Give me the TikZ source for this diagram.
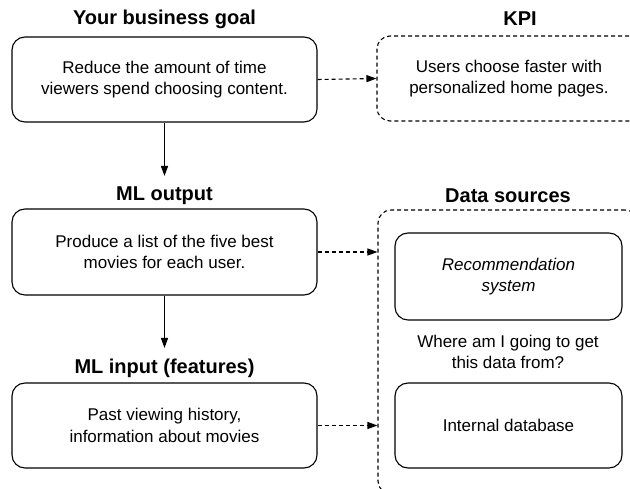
\documentclass[tikz,border=0pt]{standalone}
\usepackage{fontspec}
\setmainfont{Liberation Sans}
\usetikzlibrary{arrows.meta}
\tikzset{
  box/.style={draw, line width=1.1pt, rounded corners=13pt, align=center,
    font=\fontsize{17}{21.7}\selectfont, inner sep=0pt},
  dbox/.style={box, dashed, dash pattern=on 4pt off 3pt},
  ttl/.style={font=\bfseries\fontsize{20}{24}\selectfont, inner sep=0pt},
  qtext/.style={align=center, font=\fontsize{17}{21.7}\selectfont, inner sep=0pt},
  arr/.style={line width=1.1pt, -{Triangle[length=10pt,width=7pt]}},
  darr/.style={arr, dash pattern=on 4pt off 3pt},
}
\begin{document}
\begin{tikzpicture}[x=1pt,y=-1pt]
\useasboundingbox (0,0) rectangle (630,489);
\clip (0,0) rectangle (630,489);

% titles
\node[ttl] (t1) at (164.5,19) {Your business goal};
\node[ttl] (t2) at (520,19) {KPI};
\node[ttl] (t3) at (164.5,196) {ML output};
\node[ttl] (t4) at (508,196) {Data sources};
\node[ttl] (t5) at (164.5,368) {ML input (features)};

% left boxes
\node[box, minimum width=305pt, minimum height=85pt] (goal) at (164.5,79.5)
  {Reduce the amount of time\\viewers spend choosing content.};
\node[box, minimum width=305pt, minimum height=86pt] (out) at (164.5,252)
  {Produce a list of the five best\\movies for each user.};
\node[box, minimum width=305pt, minimum height=85pt] (in) at (164.5,425.5)
  {Past viewing history,\\information about movies};

% right side
\node[dbox, minimum width=286pt, minimum height=85pt] (kpi) at (520,78.5)
  {\hspace*{-22pt}Users choose faster with\\\hspace*{-22pt}personalized home pages.};
\node[dbox, minimum width=260pt, minimum height=284pt] (ds) at (508,352) {};
\node[box, minimum width=227pt, minimum height=87pt] (rec) at (508.5,276.5)
  {\itshape Recommendation\\\itshape system};
\node[qtext] (q) at (508,352) {Where am I going to get\\this data from?};
\node[box, minimum width=227pt, minimum height=85pt] (db) at (508.5,425.5)
  {Internal database};

% connectors
\coordinate (a1) at (164.5,176);
\coordinate (a2) at (164.5,348);
\draw[arr] (goal.south) -- (a1);
\draw[arr] (out.south) -- (a2);
\draw[darr] (goal.east) -- (kpi.west);
\draw[darr] (out.east) -- (ds.west |- out.east);
\draw[darr] (in.east) -- (ds.west |- in.east);
\end{tikzpicture}
\end{document}
